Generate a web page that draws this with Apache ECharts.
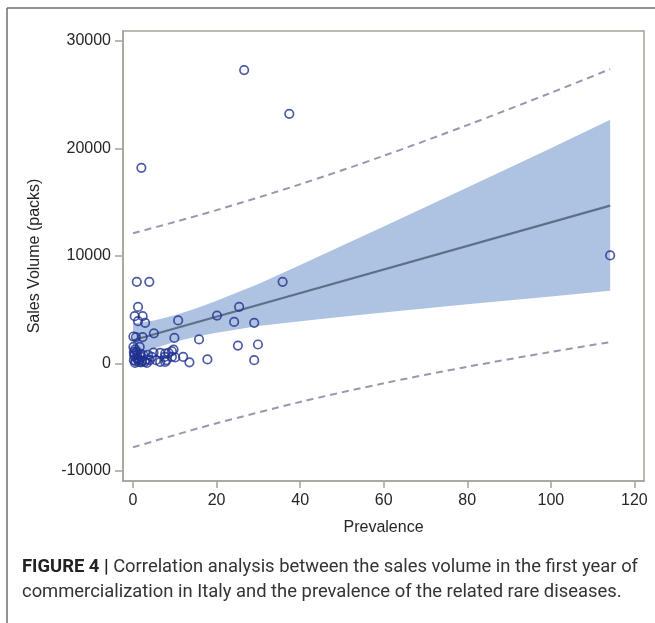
<!DOCTYPE html>
<html>
<head>
<meta charset="utf-8">
<script src="https://cdn.jsdelivr.net/npm/echarts@6/dist/echarts.min.js"></script>
<style>
html,body{margin:0;padding:0;background:#fff;}
#chart{width:655px;height:623px;}
</style>
</head>
<body>
<div id="chart"></div>
<script>
// Scatter data: prevalence vs sales volume (packs)
const prevalence = [26.6,37.4,2.0,114.2,35.8,0.9,3.9,1.2,0.4,2.3,1.2,2.9,10.8,20.1,25.4,24.2,29.0,5.0,0.1,0.7,2.3,9.9,15.8,25.1,29.9,0.1,1.6,4.9,9.7,6.5,8.5,7.6,9.3,0.2,1.0,0.2,1.4,2.2,3.2,6.5,7.7,10.1,12.0,13.5,17.8,29.0,2.5,3.3,0.5,0.8,1.8,0.3,1.5,2.8,8.0,4.5,0.9,5.5,0.6,7.7,9.3,0.3,1.1,2.0,0.5,1.9,3.6,4.0];
const sales = [27270,23200,18180,10040,7580,7580,7580,5250,4390,4390,3925,3770,4000,4450,5250,3860,3770,2800,2500,2450,2450,2370,2230,1660,1760,1535,1535,1000,1290,980,980,600,600,1070,760,300,140,230,360,140,140,550,600,100,370,300,760,50,50,500,900,700,350,150,300,600,1100,300,200,920,1130,900,400,600,1300,100,800,300];

// Fit line and bands
const bandX = [0,5,10,15,20,30,40,50,60,80,100,114.2];
const fitY = [2150,2698,3246,3794,4342,5438,6534,7630,8726,10918,13110,14666];
const ciUpper = [3700,3998,4486,5114,5822,7388,9152,10930,12718,16345,19996,22650];
const ciLower = [600,1398,2006,2474,2862,3488,3916,4330,4734,5491,6224,6750];
const piX = [0,10,20,40,60,80,100,114.2];
const piUpper = [12100,13150,14250,16650,19300,22150,25150,27350];
const piLower = [-7800,-6658,-5566,-3582,-1848,-314,1070,1982];

const xTicks = [0,20,40,60,80,100,120];
const yTicks = [-10000,0,10000,20000,30000];

const chart = echarts.init(document.getElementById('chart'));
const zip = (a,b)=>a.map((v,i)=>[v,b[i]]);
const axisColor = '#a5a29a';
const FONT = '"Liberation Sans", Arial, sans-serif';
const labelStyle = {color:'#262626', fontSize:16, fontFamily:FONT, formatter:v=>String(v)};

chart.setOption({
  animation:false,
  backgroundColor:'#fff',
  grid:{left:123, top:31, right:11, bottom:142, show:true, borderColor:axisColor, borderWidth:1.5},
  xAxis:{
    type:'value', min:-2.4, max:122.3,
    name:'Prevalence', nameLocation:'middle', nameGap:39,
    nameTextStyle:{color:'#262626', fontSize:16, fontFamily:FONT},
    axisLine:{show:true, onZero:false, lineStyle:{color:axisColor, width:1.5}},
    axisTick:{show:true, length:7, customValues:xTicks, lineStyle:{color:axisColor, width:1.5}},
    axisLabel:Object.assign({customValues:xTicks, margin:12}, labelStyle),
    splitLine:{show:false}
  },
  yAxis:{
    type:'value', min:-10930, max:30900,
    name:'Sales Volume (packs)', nameLocation:'middle', nameGap:80,
    nameTextStyle:{color:'#262626', fontSize:16, fontFamily:FONT},
    axisLine:{show:true, onZero:false, lineStyle:{color:axisColor, width:1.5}},
    axisTick:{show:true, length:8, customValues:yTicks, lineStyle:{color:axisColor, width:1.5}},
    axisLabel:Object.assign({customValues:yTicks, margin:12}, labelStyle),
    splitLine:{show:false}
  },
  title:{
    text:'{b|FIGURE 4 |} Correlation analysis between the sales volume in the first year of\ncommercialization in Italy and the prevalence of the related rare diseases.',
    left:17, top:550,
    textStyle:{
      fontFamily:'Roboto, "Liberation Sans", sans-serif', fontSize:18.4, fontWeight:'normal', color:'#333', lineHeight:25,
      rich:{b:{fontFamily:'Roboto, "Liberation Sans", sans-serif', fontSize:18.4, fontWeight:'bold', color:'#222', lineHeight:25}}
    }
  },
  graphic:[
    {type:'line', shape:{x1:7, y1:8, x2:655, y2:8}, style:{stroke:'#6e6e6e', lineWidth:1.5}},
    {type:'line', shape:{x1:7, y1:8, x2:7, y2:623}, style:{stroke:'#6e6e6e', lineWidth:1.5}}
  ],
  series:[
    {
      type:'custom', name:'CI band', z:1, silent:true,
      data:[0],
      renderItem:function(params, api){
        const pts = [];
        for (let i=0;i<bandX.length;i++) pts.push(api.coord([bandX[i], ciUpper[i]]));
        for (let i=bandX.length-1;i>=0;i--) pts.push(api.coord([bandX[i], ciLower[i]]));
        return {type:'polygon', shape:{points:pts}, style:{fill:'#aec3e2'}};
      }
    },
    {
      type:'line', name:'Fit', z:3, data:zip([bandX[0], bandX[bandX.length-1]], [fitY[0], fitY[fitY.length-1]]),
      showSymbol:false, symbol:'none', lineStyle:{color:'#5f6f8a', width:2.2}
    },
    {
      type:'line', name:'PI upper', z:3, data:zip(piX, piUpper), smooth:0.3,
      symbol:'none', lineStyle:{color:'#9a98ae', width:2, type:[7,5]}
    },
    {
      type:'line', name:'PI lower', z:3, data:zip(piX, piLower), smooth:0.3,
      symbol:'none', lineStyle:{color:'#9a98ae', width:2, type:[7,5]}
    },
    {
      type:'scatter', name:'Data', z:5, data:zip(prevalence, sales),
      symbol:'circle', symbolSize:8.5,
      itemStyle:{color:'rgba(255,255,255,0)', borderColor:'#1f3190', borderWidth:1.7}
    }
  ]
});
</script>
</body>
</html>
